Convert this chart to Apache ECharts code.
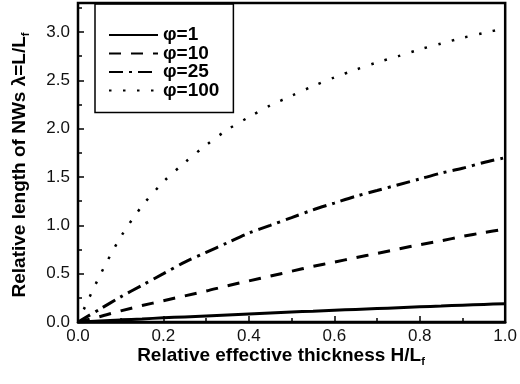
<!DOCTYPE html>
<html>
<head>
<meta charset="utf-8">
<script src="https://cdn.jsdelivr.net/npm/echarts@6/dist/echarts.min.js"></script>
<style>
  html, body { margin: 0; padding: 0; background: #fff; }
  #chart { width: 520px; height: 384px; }
</style>
</head>
<body>
<div id="chart"></div>
<script>
// H/Lf values (x axis)
const thickness = [0, 0.05, 0.1, 0.15, 0.2, 0.25, 0.3, 0.35, 0.4, 0.45, 0.5,
  0.55, 0.6, 0.65, 0.7, 0.75, 0.8, 0.85, 0.9, 0.95, 1.0]

// lambda = L/Lf for each phi
const phi1 = [0, 0.011, 0.022, 0.032, 0.043, 0.053, 0.063, 0.073, 0.083, 0.093, 0.103,
  0.112, 0.121, 0.130, 0.139, 0.148, 0.157, 0.165, 0.174, 0.182, 0.19]
const phi10 = [0, 0.055, 0.115, 0.17, 0.22, 0.27, 0.32, 0.375, 0.425, 0.475, 0.525,
  0.575, 0.62, 0.665, 0.71, 0.755, 0.80, 0.84, 0.885, 0.925, 0.96]
const phi25 = [0, 0.13, 0.26, 0.38, 0.50, 0.62, 0.72, 0.82, 0.92, 1.00, 1.08,
  1.16, 1.23, 1.30, 1.36, 1.42, 1.48, 1.54, 1.59, 1.65, 1.70]
const phi100 = [0, 0.47, 0.88, 1.20, 1.45, 1.65, 1.83, 1.99, 2.12, 2.24, 2.34,
  2.44, 2.53, 2.61, 2.685, 2.75, 2.82, 2.88, 2.94, 2.99, 3.04]

const seriesNames = ['φ=1', 'φ=10', 'φ=25', 'φ=100']

const chart = echarts.init(document.getElementById('chart'))

function pairs(ys) {
  return thickness.map((x, i) => [x, ys[i]])
}

function makeLine(name, ys, type, width) {
  return {
    name: name,
    type: 'line',
    data: pairs(ys),
    smooth: 0.3,
    showSymbol: false,
    symbol: 'none',
    lineStyle: { color: '#000', width: width, type: type, cap: 'butt' },
    itemStyle: { color: '#000' }
  }
}

const font = 'Arial, "Liberation Sans", Helvetica, sans-serif'

// rich styles for the axis titles (subscript f)
const titleRich = {
  m: { fontFamily: font, fontWeight: 'bold', fontSize: 19, lineHeight: 22, fill: '#000' },
  s: { fontFamily: font, fontWeight: 'bold', fontSize: 11, lineHeight: 11, verticalAlign: 'bottom', fill: '#000' }
}

const option = {
  animation: false,
  backgroundColor: '#fff',
  grid: {
    left: 78,
    right: 13,
    top: 3,
    bottom: 62,
    show: true,
    borderColor: '#000',
    borderWidth: 2.5
  },
  legend: {
    orient: 'vertical',
    left: 95,
    top: 4,
    padding: [21, 14, 12, 13],
    itemWidth: 49,
    itemHeight: 14,
    itemGap: -1.5,
    borderColor: '#000',
    borderWidth: 1.5,
    data: seriesNames,
    itemStyle: { opacity: 0 },
    textStyle: { color: '#000', fontFamily: font, fontWeight: 'bold', fontSize: 19, lineHeight: 20 }
  },
  xAxis: {
    type: 'value',
    min: 0,
    max: 1,
    interval: 0.2,
    splitLine: { show: false },
    axisLine: { lineStyle: { color: '#000', width: 2.5 } },
    axisTick: { inside: true, length: 6, lineStyle: { color: '#000', width: 1.5 } },
    minorTick: { show: true, splitNumber: 2, length: 4, lineStyle: { color: '#000', width: 1.5 } },
    axisLabel: {
      color: '#111',
      fontFamily: font,
      fontSize: 17,
      margin: 6,
      formatter: v => v.toFixed(1)
    }
  },
  yAxis: {
    type: 'value',
    min: 0,
    max: 3.3,
    interval: 0.5,
    splitLine: { show: false },
    axisLine: { show: true, lineStyle: { color: '#000', width: 2 } },
    axisTick: { show: true, inside: true, length: 6, lineStyle: { color: '#000', width: 1.5 } },
    minorTick: { show: true, splitNumber: 2, length: 4, lineStyle: { color: '#000', width: 1.5 } },
    axisLabel: {
      color: '#111',
      fontFamily: font,
      fontSize: 17,
      margin: 8,
      showMaxLabel: false,
      formatter: v => (Math.abs(v * 2 - Math.round(v * 2)) < 1e-6 ? v.toFixed(1) : '')
    }
  },
  graphic: [
    {
      type: 'text',
      x: 20,
      y: 165,
      rotation: Math.PI / 2,
      style: {
        text: '{m|Relative length of NWs λ=L/L}{s|f}',
        align: 'center',
        verticalAlign: 'middle',
        fill: '#000',
        rich: titleRich
      }
    },
    {
      type: 'text',
      x: 281,
      y: 356,
      style: {
        text: '{m|Relative effective thickness H/L}{s|f}',
        align: 'center',
        verticalAlign: 'middle',
        fill: '#000',
        rich: titleRich
      }
    }
  ],
  series: [
    makeLine('φ=1', phi1, 'solid', 3),
    makeLine('φ=10', phi10, [12, 10], 3),
    makeLine('φ=25', phi25, [14, 6, 3, 6], 3),
    makeLine('φ=100', phi100, [2.5, 11.5], 2.5)
  ]
}

chart.setOption(option)
</script>
</body>
</html>
